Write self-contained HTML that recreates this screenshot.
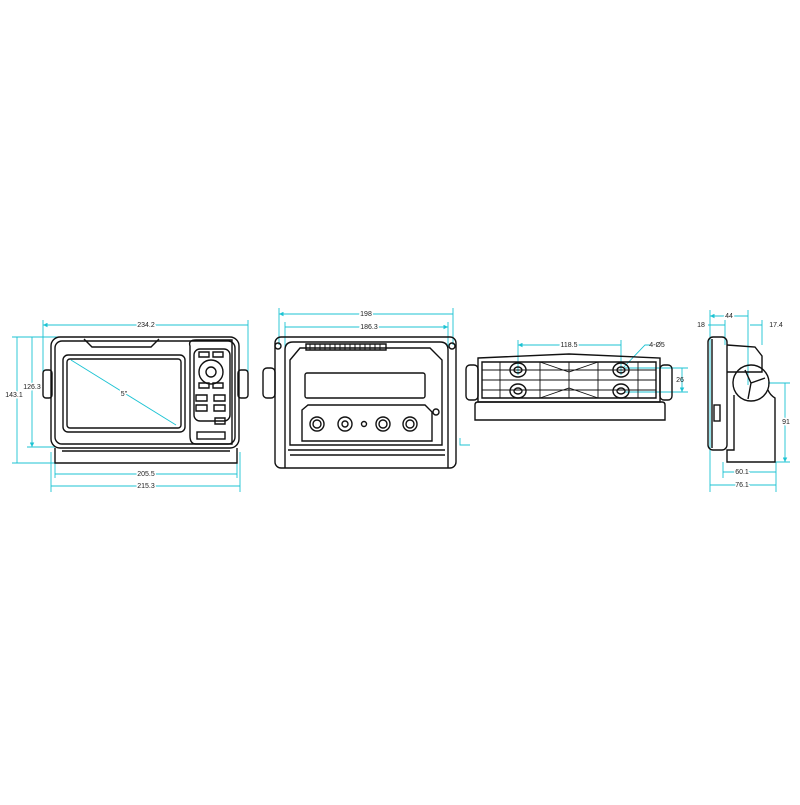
<!DOCTYPE html>
<html><head><style>html,body{margin:0;background:#fff}</style></head><body>
<svg width="800" height="800" viewBox="0 0 800 800" xmlns="http://www.w3.org/2000/svg" font-family="Liberation Sans, sans-serif">
<rect width="800" height="800" fill="#fff"/>
<defs>
<marker id="a" viewBox="0 0 6 6" refX="6" refY="3" markerWidth="5" markerHeight="5" orient="auto-start-reverse"><path d="M0,0L6,3L0,6z" fill="#1cc3d3"/></marker>
</defs>
<g stroke="#1cc3d3" stroke-width="0.9" fill="none">
<path d="M43,320V372M248,320V372M51,452V492M240,452V492M55,452V478M237,452V478"/>
<path d="M43,325H248M55,474H237M51,486H240M17,337V463M32,337V447" marker-start="url(#a)" marker-end="url(#a)"/>
<path d="M12,337H60M12,463H55M27,447H55"/>
<path d="M71,360L176,425"/>
<path d="M279,308V345M453,308V345M285,322V348M448,322V348"/>
<path d="M279,314H453M285,327H448" marker-start="url(#a)" marker-end="url(#a)"/>
<path d="M460,438V445H470"/>
<path d="M518,340V375M621,340V375M625,368H688M625,392H688"/>
<path d="M518,345H621M682,368V392" marker-start="url(#a)" marker-end="url(#a)"/>
<path d="M623,368L645,345H650"/>
<path d="M710,310V492M748,310V385M725,320V345M762,320V345M723,462V478M776,462V492M768,383H790M772,462H790"/>
<path d="M710,316H748M723,472H776M710,485H776M785,383V462" marker-start="url(#a)" marker-end="url(#a)"/>
<path d="M708,325H725M750,325H762"/>
</g>
<g font-size="7" fill="#222" text-anchor="middle">
<text x="146" y="327" style="paint-order:stroke" stroke="#fff" stroke-width="3">234.2</text>
<text x="146" y="476" stroke="#fff" stroke-width="3" style="paint-order:stroke">205.5</text>
<text x="146" y="488" stroke="#fff" stroke-width="3" style="paint-order:stroke">215.3</text>
<text x="14" y="397" stroke="#fff" stroke-width="3" style="paint-order:stroke">143.1</text>
<text x="32" y="389" stroke="#fff" stroke-width="3" style="paint-order:stroke">126.3</text>
<text x="124" y="396" stroke="#fff" stroke-width="3" style="paint-order:stroke">5"</text>
<text x="366" y="316" stroke="#fff" stroke-width="3" style="paint-order:stroke">198</text>
<text x="369" y="329" stroke="#fff" stroke-width="3" style="paint-order:stroke">186.3</text>
<text x="569" y="347" stroke="#fff" stroke-width="3" style="paint-order:stroke">118.5</text>
<text x="657" y="347">4-Ø5</text>
<text x="680" y="382">26</text>
<text x="729" y="318" stroke="#fff" stroke-width="3" style="paint-order:stroke">44</text>
<text x="701" y="327">18</text>
<text x="776" y="327">17.4</text>
<text x="786" y="424" stroke="#fff" stroke-width="3" style="paint-order:stroke">91</text>
<text x="742" y="474" stroke="#fff" stroke-width="3" style="paint-order:stroke">60.1</text>
<text x="742" y="487" stroke="#fff" stroke-width="3" style="paint-order:stroke">76.1</text>
</g>
<g stroke="#111" stroke-width="1.4" fill="none">
<rect x="51" y="337" width="188" height="111" rx="9"/>
<rect x="55" y="341" width="180" height="103" rx="7"/>
<path d="M84,339L92,347H151L159,339"/>
<rect x="63" y="355" width="122" height="77" rx="5"/>
<rect x="67" y="359" width="114" height="69" rx="3"/>
<path d="M190,346Q188,340 196,340H232V444H196Q190,444 190,436Z"/>
<rect x="194" y="349" width="36" height="72" rx="6"/>
<circle cx="211" cy="372" r="12"/><circle cx="211" cy="372" r="5"/>
<path d="M199,352h10v5h-10zM213,352h10v5h-10zM199,383h10v5h-10zM213,383h10v5h-10z"/>
<path d="M196,395h11v6h-11zM214,395h11v6h-11zM196,405h11v6h-11zM214,405h11v6h-11zM215,418h10v6h-10z"/>
<rect x="197" y="432" width="28" height="7"/>
<rect x="43" y="370" width="9" height="28" rx="3"/><rect x="238" y="370" width="10" height="28" rx="3"/>
<path d="M55,448V463H237V448M62,451H230"/>
<rect x="275" y="337" width="181" height="131" rx="6"/>
<path d="M285,468V350Q285,342 293,342H440Q448,342 448,350V468"/>
<path d="M290,360L300,348H430L442,360V445H290Z"/>
<path d="M306,344h80v6h-80z"/>
<path d="M310,344v6M315,344v6M320,344v6M325,344v6M330,344v6M335,344v6M340,344v6M345,344v6M350,344v6M355,344v6M360,344v6M365,344v6M370,344v6M375,344v6M380,344v6" stroke-width="1"/>
<rect x="305" y="373" width="120" height="25" rx="2"/>
<path d="M302,410L308,405H425L432,412V441H302Z"/>
<circle cx="317" cy="424" r="7"/><circle cx="317" cy="424" r="4"/>
<circle cx="345" cy="424" r="7"/><circle cx="345" cy="424" r="3"/>
<circle cx="364" cy="424" r="2.5"/>
<circle cx="383" cy="424" r="7"/><circle cx="383" cy="424" r="4"/>
<circle cx="410" cy="424" r="7"/><circle cx="410" cy="424" r="4"/>
<circle cx="436" cy="412" r="3"/><circle cx="278" cy="346" r="3"/><circle cx="452" cy="346" r="3"/>
<rect x="263" y="368" width="12" height="30" rx="4"/>
<path d="M288,450H445M290,455H445"/>
<path d="M478,358L569,354L660,358V402H478Z"/>
<path d="M482,362H656V398H482Z"/>
<path d="M482,370H656M482,380H656M482,390H656M500,362V398M540,362V398M569,362V398M598,362V398M638,362V398" stroke-width="0.9"/>
<path d="M540,362L569,372L598,362M540,398L569,388L598,398" stroke-width="0.9"/>
<ellipse cx="518" cy="370" rx="8" ry="7"/><ellipse cx="518" cy="391" rx="8" ry="7"/>
<ellipse cx="621" cy="370" rx="8" ry="7"/><ellipse cx="621" cy="391" rx="8" ry="7"/>
<ellipse cx="518" cy="370" rx="4" ry="3"/><ellipse cx="518" cy="391" rx="4" ry="3"/>
<ellipse cx="621" cy="370" rx="4" ry="3"/><ellipse cx="621" cy="391" rx="4" ry="3"/>
<rect x="466" y="365" width="12" height="35" rx="4"/><rect x="660" y="365" width="12" height="35" rx="4"/>
<path d="M475,405Q475,402 478,402H662Q665,402 665,405V420H475Z"/>
<rect x="708" y="337" width="19" height="113" rx="5"/>
<path d="M712,339V448"/>
<path d="M727,345L755,347L762,356V372H727"/>
<circle cx="751" cy="383" r="18"/>
<path d="M751,383L745,370M751,383L765,378M751,383L748,399"/>
<path d="M734,395V450H727V462H775V398Q770,395 768,390"/>
<rect x="714" y="405" width="6" height="16"/>
</g>
</svg>
</body></html>
